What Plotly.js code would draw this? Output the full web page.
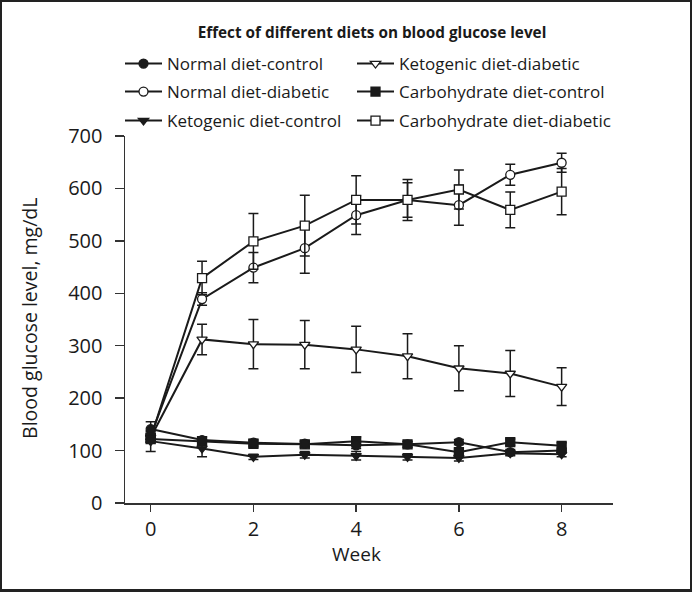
<!DOCTYPE html>
<html>
<head>
<meta charset="utf-8">
<script src="https://cdn.plot.ly/plotly-3.0.1.min.js"></script>
<style>
html,body{margin:0;padding:0;background:#fff;}
#frame{width:692px;height:592px;box-sizing:border-box;border:2px solid #222;border-bottom-width:3px;overflow:hidden;}
#chart{width:688px;height:587px;}
</style>
</head>
<body>
<div id="frame"><div id="chart"></div></div>
<script>
const weeks = [0, 1, 2, 3, 4, 5, 6, 7, 8];

const normalControl = [141, 120, 115, 113, 110, 112, 116, 97, 100];
const normalControlErr = [14, 6, 6, 5, 6, 5, 5, 5, 5];

const normalDiabetic = [128, 389, 449, 486, 549, 578, 568, 626, 649];
const normalDiabeticErr = [8, 12, 29, 48, 37, 39, 38, 20, 18];

const ketoControl = [118, 104, 88, 92, 90, 88, 86, 95, 93];
const ketoControlErr = [20, 16, 5, 6, 8, 6, 6, 5, 5];

const ketoDiabetic = [125, 312, 303, 302, 293, 280, 257, 247, 222];
const ketoDiabeticErr = [8, 29, 47, 46, 44, 43, 43, 44, 36];

const carbControl = [122, 118, 113, 112, 118, 112, 97, 116, 109];
const carbControlErr = [6, 8, 6, 6, 8, 6, 6, 6, 6];

const carbDiabetic = [124, 429, 499, 529, 578, 578, 598, 559, 594];
const carbDiabeticErr = [8, 32, 53, 58, 46, 33, 37, 34, 44];

const seriesNames = ["Normal diet-control", "Normal diet-diabetic", "Ketogenic diet-control",
  "Ketogenic diet-diabetic", "Carbohydrate diet-control", "Carbohydrate diet-diabetic"];

const xTitle = "Week";
const yTitle = "Blood glucose level, mg/dL";
const chartTitle = "Effect of different diets on blood glucose level";

const FONT = "'Open Sans', 'Noto Sans', sans-serif";
const INK = "#1a1a1a";

function mk(name, y, err, symbol, filled, legendId) {
  return {
    type: "scatter", mode: "lines+markers", name: name, x: weeks, y: y,
    legend: legendId,
    line: {color: INK, width: 2},
    marker: {symbol: symbol, size: 9, color: filled ? INK : "#ffffff", line: {color: INK, width: 1.3}},
    error_y: {type: "data", array: err, visible: true, color: INK, thickness: 1.5, width: 5},
    hoverinfo: "skip"
  };
}

const data = [
  mk(seriesNames[3], ketoDiabetic, ketoDiabeticErr, "triangle-down", false, "legend4"),
  mk(seriesNames[1], normalDiabetic, normalDiabeticErr, "circle", false, "legend2"),
  mk(seriesNames[5], carbDiabetic, carbDiabeticErr, "square", false, "legend6"),
  mk(seriesNames[2], ketoControl, ketoControlErr, "triangle-down", true, "legend3"),
  mk(seriesNames[4], carbControl, carbControlErr, "square", true, "legend5"),
  mk(seriesNames[0], normalControl, normalControlErr, "circle", true, "legend")
];

const W = 688, H = 587;
function leg(xpx, ypx) {
  return {x: xpx / W, y: 1 - ypx / H, xref: "container", yref: "container",
    xanchor: "left", yanchor: "middle", bgcolor: "rgba(0,0,0,0)",
    font: {family: FONT, size: 17, color: INK}, itemwidth: 37};
}

const layout = {
  width: W, height: H,
  paper_bgcolor: "#ffffff", plot_bgcolor: "#ffffff",
  margin: {l: 123, r: 77, t: 134, b: 86, autoexpand: false},
  font: {family: FONT, color: INK},
  showlegend: true,
  title: {text: "<b>" + chartTitle + "</b>", xref: "container", x: 370 / W,
    xanchor: "center", yref: "container", y: 1 - 31 / H, yanchor: "middle",
    font: {family: FONT, size: 15.3, color: INK}},
  xaxis: {range: [-0.5, 9], tickvals: [0, 2, 4, 6, 8], ticks: "outside", ticklen: 7, tickwidth: 1.5,
    tickcolor: "#333", showline: true, linecolor: "#333", linewidth: 1.5, showgrid: false, zeroline: false,
    automargin: false,
    tickfont: {family: FONT, size: 20, color: INK}},
  yaxis: {range: [0, 700], tickvals: [0, 100, 200, 300, 400, 500, 600, 700], ticks: "outside", ticklen: 9,
    tickwidth: 1.5, tickcolor: "#333", showline: true, linecolor: "#333", linewidth: 1.5, showgrid: false,
    zeroline: false, automargin: false, ticklabelstandoff: 8, tickfont: {family: FONT, size: 20, color: INK}},
  annotations: [
    {text: xTitle, xref: "paper", yref: "paper", x: 0.475, y: -0.138, xanchor: "center", yanchor: "middle",
      showarrow: false, font: {family: FONT, size: 19, color: INK}},
    {text: yTitle, xref: "paper", yref: "paper", x: -0.197, y: 0.504, xanchor: "center", yanchor: "middle",
      textangle: -90, showarrow: false, font: {family: FONT, size: 19.5, color: INK}}
  ],
  legend: leg(118, 62),
  legend2: leg(118, 90),
  legend3: leg(118, 119),
  legend4: leg(350, 62),
  legend5: leg(350, 90),
  legend6: leg(350, 119)
};

Plotly.newPlot("chart", data, layout, {displayModeBar: false, staticPlot: true});
</script>
</body>
</html>
